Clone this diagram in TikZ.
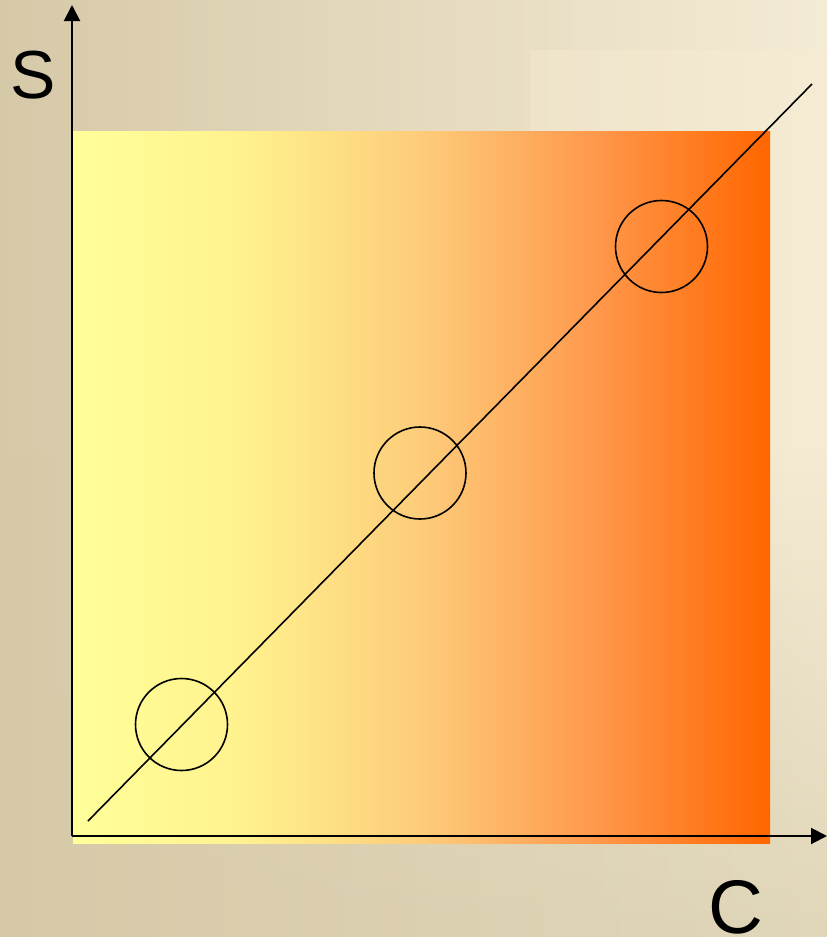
\documentclass[tikz,border=0pt]{standalone}
\usepackage{fontspec}
\setmainfont{Liberation Sans}
\usetikzlibrary{arrows.meta,fadings}
\definecolor{bgL}{HTML}{D6C9A8}
\definecolor{bgR}{HTML}{F4EBD5}
\definecolor{bgB}{HTML}{E0D6B8}
\definecolor{warm}{HTML}{F8EDD3}
\definecolor{yel}{HTML}{FFFF99}
\definecolor{yel2}{HTML}{FFF28E}
\definecolor{midc}{HTML}{FDCC7A}
\definecolor{ora2}{HTML}{FF9A4E}
\definecolor{ora}{HTML}{FF6600}
\pgfdeclarehorizontalshading{sqshade}{100bp}{color(0bp)=(yel); color(25bp)=(yel); color(37bp)=(yel2); color(50bp)=(midc); color(62bp)=(ora2); color(75bp)=(ora); color(100bp)=(ora)}
\tikzfading[name=fadedown, top color=transparent!100, bottom color=transparent!0]
\begin{document}
\begin{tikzpicture}[x=1pt,y=-1pt,
  axis/.style={line width=2pt,-{Triangle[length=16pt,width=16pt]}},
  ring/.style={circle, draw, line width=1.6pt, minimum size=92pt, inner sep=0pt},
  lbl/.style={inner sep=0pt}]
% background
\useasboundingbox (0,0) rectangle (827,937);
\shade[left color=bgL, right color=bgR] (0,0) rectangle (827,937);
\fill[warm, opacity=0.4] (530,50) rectangle (827,600);
\shade[left color=bgL, right color=bgB, path fading=fadedown] (0,450) rectangle (827,937);
% gradient square
\shade[shading=sqshade] (73,131) rectangle (770,843);
% diagonal
\coordinate (d0) at (88,821);
\coordinate (d1) at (812,84);
\draw[line width=1.6pt] (d0) -- (d1);
% circles
\node[ring] (c1) at (181.5,724.5) {};
\node[ring] (c2) at (420,473) {};
\node[ring] (c3) at (661.5,246.5) {};
% axes
\coordinate (o) at (72,836);
\coordinate (ytop) at (72,5);
\coordinate (xend) at (827,836);
\draw[axis] (o) -- (ytop);
\draw[axis] (o) -- (xend);
% labels
\node[lbl, anchor=base, font=\fontsize{68}{68}\selectfont] (S) at (33,98) {S};
\node[lbl, anchor=base, font=\fontsize{76}{76}\selectfont] (C) at (736,933) {C};
\end{tikzpicture}
\end{document}
